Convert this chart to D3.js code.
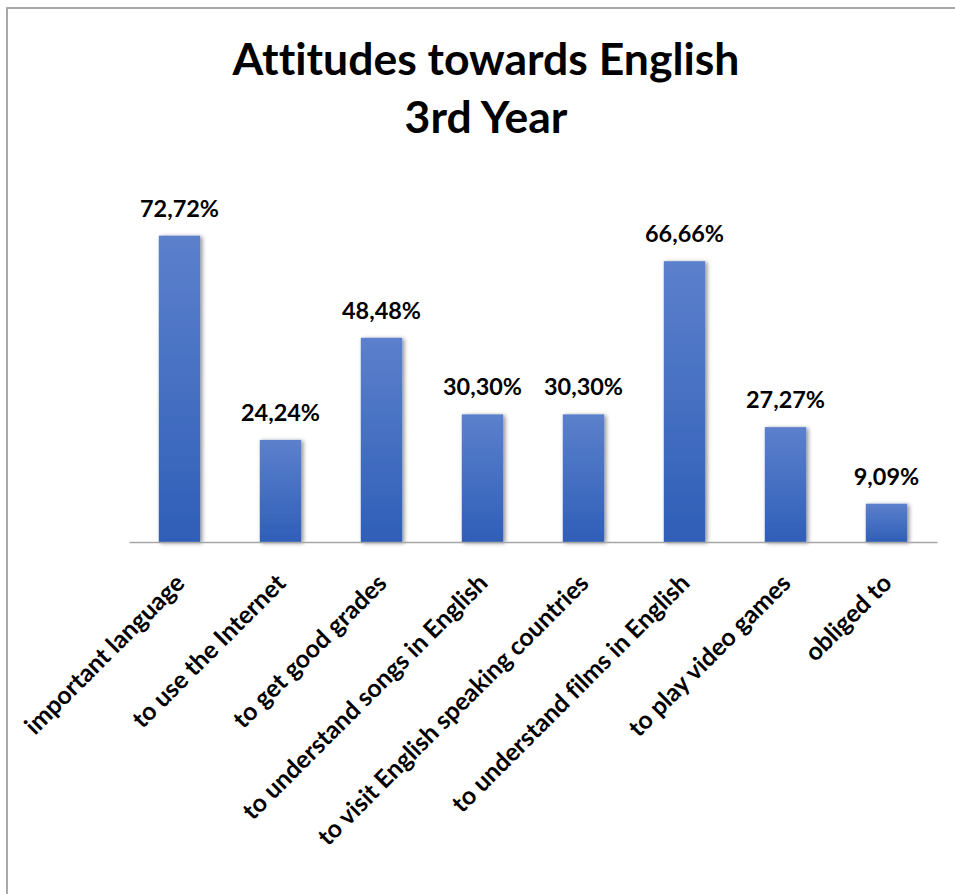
<!DOCTYPE html>
<html>
<head>
<meta charset="utf-8">
<script src="https://cdn.jsdelivr.net/npm/d3@7"></script>
<style>
  html, body { margin: 0; padding: 0; background: #fff; }
  svg { display: block; }
  text { font-family: Lato, "Open Sans", sans-serif; font-weight: 700; fill: #000;
         font-variant-ligatures: none; font-feature-settings: "liga" 0; }
</style>
</head>
<body>
<svg id="chart" width="955" height="894"></svg>
<script>
const titleLines = ["Attitudes towards English", "3rd Year"];
const categories = [
  "important language",
  "to use the Internet",
  "to get good grades",
  "to understand songs in English",
  "to visit English speaking countries",
  "to understand films in English",
  "to play video games",
  "obliged to"
];
const values = [72.72, 24.24, 48.48, 30.30, 30.30, 66.66, 27.27, 9.09];
const valueLabels = ["72,72%", "24,24%", "48,48%", "30,30%", "30,30%", "66,66%", "27,27%", "9,09%"];
const yDomain = [0, 80];

const svg = d3.select("#chart");
const W = 955, H = 894;

// frame
svg.append("rect")
  .attr("x", 7).attr("y", 8)
  .attr("width", W + 20).attr("height", H + 20)
  .attr("fill", "#fff")
  .attr("stroke", "#a0a0a0").attr("stroke-width", 1.8);

const defs = svg.append("defs");
const grad = defs.append("linearGradient")
  .attr("id", "barGrad").attr("x1", 0).attr("y1", 0).attr("x2", 0).attr("y2", 1);
grad.append("stop").attr("offset", "0%").attr("stop-color", "#5c80cc");
grad.append("stop").attr("offset", "100%").attr("stop-color", "#2f5fb8");

const shadow = defs.append("filter").attr("id", "barShadow")
  .attr("x", "-30%").attr("y", "-10%").attr("width", "170%").attr("height", "130%");
shadow.append("feDropShadow")
  .attr("dx", 2).attr("dy", 1).attr("stdDeviation", 2.2)
  .attr("flood-color", "#000").attr("flood-opacity", 0.45);

const x = d3.scaleBand()
  .domain(categories)
  .range([129, 937])
  .paddingInner(0.59)
  .paddingOuter(0.295);

const y = d3.scaleLinear().domain(yDomain).range([542, 205]);

// fit a text's font size so that it spans a target width
function fitSize(sample, target) {
  const t = svg.append("text").attr("font-size", 100).text(sample);
  const w = t.node().getComputedTextLength();
  t.remove();
  return 100 * target / w;
}

const titleSize = fitSize(titleLines[0], 507);
svg.append("text")
  .attr("x", 486).attr("y", 75)
  .attr("text-anchor", "middle")
  .attr("font-size", titleSize)
  .text(titleLines[0]);
svg.append("text")
  .attr("x", 486).attr("y", 133)
  .attr("text-anchor", "middle")
  .attr("font-size", titleSize)
  .text(titleLines[1]);

// bars
const data = categories.map((c, i) => ({ c, v: values[i], label: valueLabels[i] }));

svg.append("g").selectAll("rect")
  .data(data)
  .join("rect")
  .attr("x", d => x(d.c))
  .attr("y", d => y(d.v))
  .attr("width", x.bandwidth())
  .attr("height", d => y(0) - y(d.v))
  .attr("fill", "url(#barGrad)")
  .attr("filter", "url(#barShadow)");

// baseline axis
const axis = svg.append("g")
  .attr("transform", `translate(0,${y(0)})`)
  .call(d3.axisBottom(x).tickSize(0).tickFormat(""));
axis.select(".domain").attr("stroke", "#a6a6a6").attr("stroke-width", 1.5);

// value labels
const valSize = fitSize(valueLabels[0], 79);
svg.append("g").selectAll("text")
  .data(data)
  .join("text")
  .attr("x", d => x(d.c) + x.bandwidth() / 2)
  .attr("y", d => y(d.v) - 19)
  .attr("text-anchor", "middle")
  .attr("font-size", valSize)
  .text(d => d.label);

// rotated category labels
const catSize = fitSize(categories[0], 214);
svg.append("g").selectAll("text")
  .data(data)
  .join("text")
  .attr("text-anchor", "end")
  .attr("dominant-baseline", "central")
  .attr("font-size", catSize)
  .attr("transform", d => `translate(${x(d.c) + x.bandwidth() / 2},${y(0) + 36}) rotate(-45)`)
  .text(d => d.c);
</script>
</body>
</html>
